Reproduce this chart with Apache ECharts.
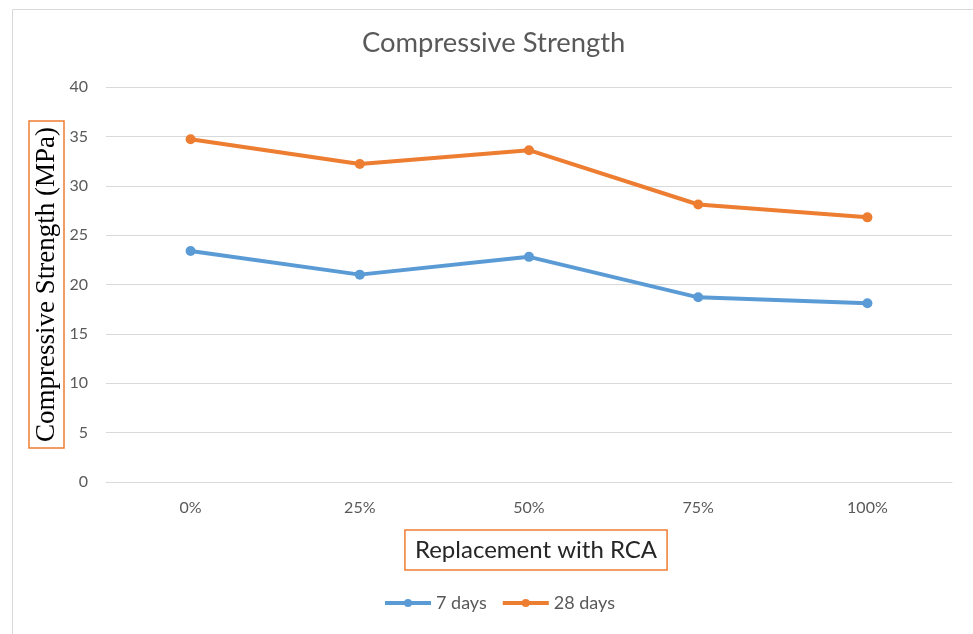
<!DOCTYPE html>
<html>
<head>
<meta charset="utf-8">
<script src="https://cdn.jsdelivr.net/npm/echarts@6/dist/echarts.min.js"></script>
<style>html,body{margin:0;padding:0;background:#fff;}#c{width:973px;height:634px;}</style>
</head>
<body>
<div id="c"></div>
<script>
var categories = ['0%', '25%', '50%', '75%', '100%'];
var days7 = [23.4, 21.0, 22.8, 18.7, 18.1];
var days28 = [34.7, 32.2, 33.6, 28.1, 26.8];
var yTicks = { min: 0, max: 40, interval: 5 };

var chart = echarts.init(document.getElementById('c'));
var font = 'Lato, "Open Sans", sans-serif';
chart.setOption({
  backgroundColor: '#fff',
  animation: false,
  graphic: [{
    type: 'rect', left: 10, top: 7, shape: { width: 970, height: 640 },
    style: { fill: 'none', stroke: '#d9d9d9', lineWidth: 1 }, silent: true
  }],
  title: {
    text: 'Compressive Strength', left: 357, top: 25,
    textStyle: { fontFamily: font, fontSize: 27.4, fontWeight: 'normal', color: '#595959' }
  },
  legend: {
    top: 594, left: 383, padding: 0, itemWidth: 46, itemHeight: 10, itemGap: 14,
    lineStyle: { width: 4 },
    textStyle: { fontFamily: font, fontSize: 18, color: '#595959' },
    data: ['7 days', '28 days']
  },
  grid: { left: 106, right: 21, top: 87, bottom: 152 },
  xAxis: {
    type: 'category', data: categories, boundaryGap: true,
    axisLine: { lineStyle: { color: '#d9d9d9' } }, axisTick: { show: false },
    axisLabel: { fontFamily: font, fontSize: 16, color: '#595959', margin: 18 },
    name: '{s|}{b|Replacement with RCA}', nameLocation: 'middle', nameGap: 48, nameMoveOverlap: false,
    nameTextStyle: {
      fontFamily: font, fontSize: 24, color: '#262626', verticalAlign: 'top',
      rich: {
        s: { width: 14, fontSize: 24 },
        b: {
          fontFamily: font, fontSize: 24, color: '#262626',
          borderColor: '#ED7D31', borderWidth: 1.5, padding: [8, 10, 8, 10]
        }
      }
    }
  },
  yAxis: {
    type: 'value', min: yTicks.min, max: yTicks.max, interval: yTicks.interval,
    axisLine: { show: false }, axisTick: { show: false },
    splitLine: { lineStyle: { color: '#d9d9d9' } },
    axisLabel: { fontFamily: font, fontSize: 16, color: '#595959', margin: 18 },
    name: 'Compressive Strength (MPa)', nameLocation: 'middle', nameGap: 42, nameRotate: 90,
    nameMoveOverlap: false,
    nameTextStyle: {
      fontFamily: '"Liberation Serif", serif', fontSize: 27, color: '#000',
      borderColor: '#ED7D31', borderWidth: 1.5, padding: [4, 6, 4, 6]
    }
  },
  series: [{
    name: '7 days', type: 'line', data: days7, symbol: 'circle', symbolSize: 10,
    lineStyle: { width: 4, color: '#5B9BD5' }, itemStyle: { color: '#5B9BD5' }
  }, {
    name: '28 days', type: 'line', data: days28, symbol: 'circle', symbolSize: 10,
    lineStyle: { width: 4, color: '#ED7D31' }, itemStyle: { color: '#ED7D31' }
  }]
});
</script>
</body>
</html>
